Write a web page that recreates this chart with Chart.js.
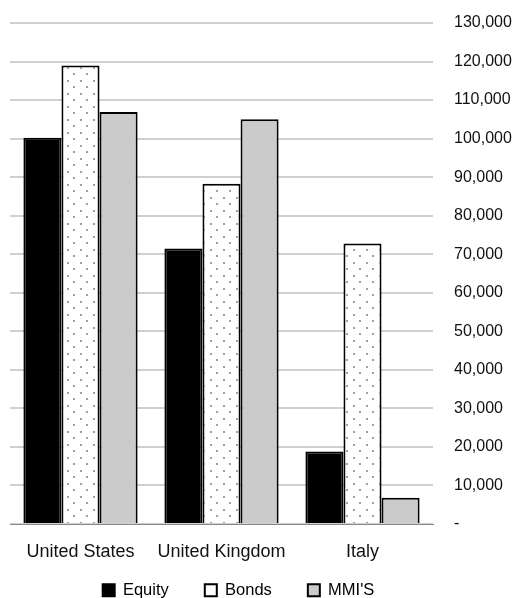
<!DOCTYPE html>
<html>
<head>
<meta charset="utf-8">
<script src="https://cdn.jsdelivr.net/npm/chart.js@4/dist/chart.umd.min.js"></script>
<style>
  html, body { margin: 0; padding: 0; background: #fff; overflow: hidden; }
  #wrap { width: 521px; height: 598px; }
</style>
</head>
<body>
<div id="wrap"><canvas id="assetChart" width="521" height="598"></canvas></div>
<script>
const countries = ["United States", "United Kingdom", "Italy"];
const equity = [100200, 71500, 18800];
const bonds  = [119000, 88300, 72800];
const mmis   = [106900, 105000, 6800];
const yMax = 130000;
const yStep = 10000;

// white tile with staggered grey dots for the Bonds bars
function dotPattern() {
  const c = document.createElement("canvas");
  c.width = 13; c.height = 13;
  const g = c.getContext("2d");
  g.fillStyle = "#fff";
  g.fillRect(0, 0, 13, 13);
  g.fillStyle = "#a0a0a0";
  g.fillRect(2, 2, 2, 2);
  g.fillRect(8, 8, 2, 2);
  return g.createPattern(c, "repeat");
}

function fmt(v) {
  return v === 0 ? "-" : v.toLocaleString("en-US");
}

const family = "'Liberation Sans', Arial, Helvetica, sans-serif";

// legend: wide gaps between items but tucked right under the axis labels,
// a bit left of centre
const legendNudge = {
  id: "legendNudge",
  beforeInit(chart) {
    const fit = chart.legend.fit;
    chart.legend.fit = function () { fit.call(this); this.height = 18; };
  },
  afterLayout(chart) {
    const lg = chart.legend;
    lg.top -= 34;
    lg.bottom = chart.height;
    lg.left -= 27; lg.right -= 27;
  }
};

const ctx = document.getElementById("assetChart").getContext("2d");
const chart = new Chart(ctx, {
  type: "bar",
  data: {
    labels: countries,
    datasets: [
      { label: "Equity", data: equity, backgroundColor: "#000", borderColor: "#000", borderWidth: 2 },
      { label: "Bonds", data: bonds, backgroundColor: dotPattern(), borderColor: "#000", borderWidth: 2 },
      { label: "MMI'S", data: mmis, backgroundColor: "#cbcbcb", borderColor: "#000", borderWidth: 2 }
    ]
  },
  options: {
    responsive: false,
    animation: false,
    layout: { padding: { left: 10, right: 0, top: 0, bottom: 0 } },
    datasets: { bar: { categoryPercentage: 0.81, barPercentage: 1, borderSkipped: "bottom" } },
    scales: {
      x: {
        grid: { display: false, drawTicks: false },
        border: { display: true, color: "#888", width: 1 },
        ticks: { color: "#111", font: { family: family, size: 18, lineHeight: "22px" }, padding: 17 }
      },
      y: {
        position: "right",
        min: 0,
        max: yMax,
        afterFit: s => { s.width = 88; s.paddingTop = 23; },
        grid: { color: "#d0d0d0", lineWidth: 2, drawTicks: false },
        border: { display: false },
        ticks: { stepSize: yStep, color: "#111", font: { family: family, size: 16 }, padding: 21, callback: v => fmt(v) }
      }
    },
    plugins: {
      legend: {
        position: "bottom",
        labels: {
          color: "#111",
          font: { family: family, size: 16.5 },
          boxWidth: 12,
          boxHeight: 12,
          padding: 36,
          generateLabels: c => c.data.datasets.map((d, i) => ({
            text: d.label,
            fillStyle: ["#000", "#fff", "#cbcbcb"][i],
            strokeStyle: "#000",
            lineWidth: 2,
            datasetIndex: i
          }))
        }
      },
      tooltip: { enabled: false }
    }
  },
  plugins: [legendNudge]
});
</script>
</body>
</html>
